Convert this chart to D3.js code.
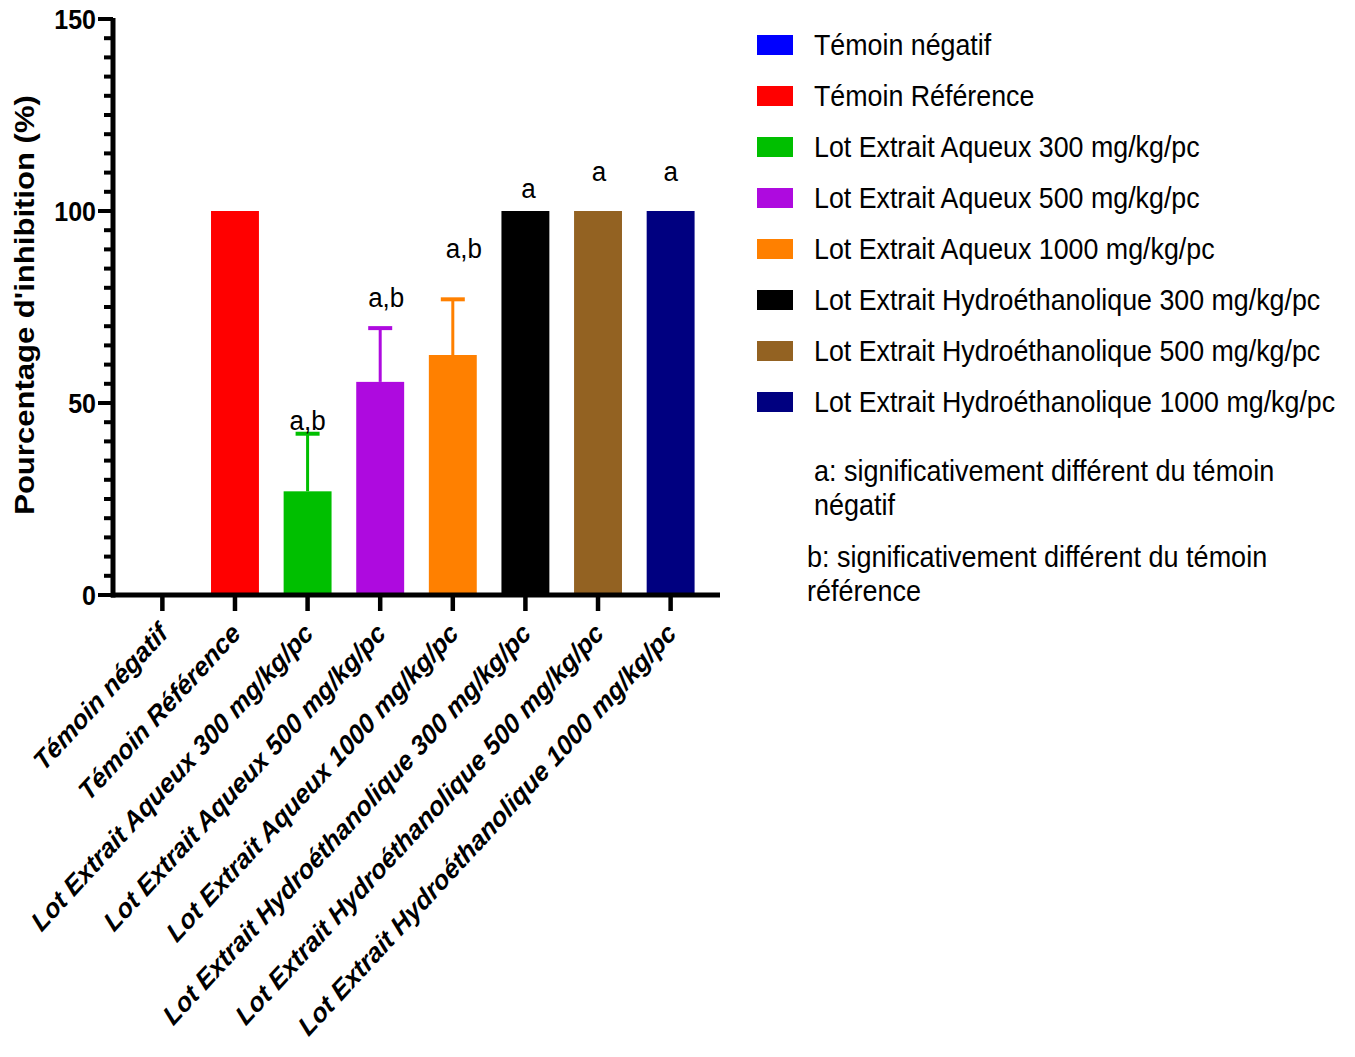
<!DOCTYPE html>
<html>
<head>
<meta charset="utf-8">
<script src="https://cdn.jsdelivr.net/npm/d3@7"></script>
<style>
  html, body { margin: 0; padding: 0; background: #fff; }
  svg { display: block; }
  text { font-family: "Liberation Sans", Arial, Helvetica, sans-serif; fill: #000; }
</style>
</head>
<body>
<svg id="chart" width="1355" height="1057"></svg>
<script>
// ---- data -------------------------------------------------------------
const categories = [
  "Témoin négatif",
  "Témoin Référence",
  "Lot Extrait Aqueux 300 mg/kg/pc",
  "Lot Extrait Aqueux 500 mg/kg/pc",
  "Lot Extrait Aqueux 1000 mg/kg/pc",
  "Lot Extrait Hydroéthanolique 300 mg/kg/pc",
  "Lot Extrait Hydroéthanolique 500 mg/kg/pc",
  "Lot Extrait Hydroéthanolique 1000 mg/kg/pc"
];
const inhibition = [0, 100, 27, 55.5, 62.5, 100, 100, 100];   // mean % inhibition
const errorUp    = [0, 0, 15, 14, 14.5, 0, 0, 0];              // upper error bar
const significance = ["", "", "a,b", "a,b", "a,b", "a", "a", "a"];
const yTicks = [0, 50, 100, 150];
const notes = [
  ["a: significativement différent du témoin", "négatif"],
  ["b: significativement différent du témoin", "référence"]
];

// ---- styling / layout -------------------------------------------------
const barColors = ["#0000FF", "#FF0000", "#00BF00", "#AE0ADF", "#FF8000", "#000000", "#936222", "#000080"];
const sigLabelAt = [null, null, 43, 75, 87.8, 103.3, 107.7, 107.8]; // label baseline, axis units
const sigNudge   = [0, 0, 0, 6, 11, 3, 1, 0];                      // px shift to the right
const VS = 1.09; // vertical stretch applied to lettering

const svg = d3.select("#chart");

const x = d3.scaleBand()
  .domain(categories)
  .range([113, 720])
  .paddingInner(0.34)
  .paddingOuter(0.35);

const y = d3.scaleLinear().domain([0, 150]).range([595, 19]);

const data = categories.map((c, i) => ({
  cat: c, v: inhibition[i], e: errorUp[i], col: barColors[i],
  sig: significance[i], sigAt: sigLabelAt[i], nudge: sigNudge[i]
}));

// ---- bars -------------------------------------------------------------
svg.append("g").selectAll("rect")
  .data(data.filter(d => d.v > 0))
  .join("rect")
  .attr("x", d => x(d.cat))
  .attr("width", x.bandwidth())
  .attr("y", d => y(d.v))
  .attr("height", d => y(0) - y(d.v))
  .attr("fill", d => d.col);

// ---- error bars (upper only) ------------------------------------------
const eb = svg.append("g").selectAll("g")
  .data(data.filter(d => d.e > 0))
  .join("g");
eb.append("line")
  .attr("x1", d => x(d.cat) + x.bandwidth() / 2)
  .attr("x2", d => x(d.cat) + x.bandwidth() / 2)
  .attr("y1", d => y(d.v))
  .attr("y2", d => y(d.v + d.e))
  .attr("stroke", d => d.col)
  .attr("stroke-width", 3);
eb.append("line")
  .attr("x1", d => x(d.cat) + x.bandwidth() / 2 - 12)
  .attr("x2", d => x(d.cat) + x.bandwidth() / 2 + 12)
  .attr("y1", d => y(d.v + d.e))
  .attr("y2", d => y(d.v + d.e))
  .attr("stroke", d => d.col)
  .attr("stroke-width", 4);

// ---- significance letters ---------------------------------------------
svg.append("g").selectAll("text")
  .data(data.filter(d => d.sig))
  .join("text")
  .attr("transform", d => `translate(${x(d.cat) + x.bandwidth() / 2 + d.nudge},${y(d.sigAt)}) scale(1,${VS})`)
  .attr("text-anchor", "middle")
  .style("font-size", "26px")
  .text(d => d.sig);

// ---- y axis -----------------------------------------------------------
const yAxis = svg.append("g");
yAxis.append("line")
  .attr("x1", 113).attr("x2", 113)
  .attr("y1", y(0) + 2.5).attr("y2", y(150) - 1)
  .attr("stroke", "#000").attr("stroke-width", 5);
yAxis.selectAll("line.minor")
  .data(d3.range(0, 151, 5).filter(v => !yTicks.includes(v)))
  .join("line")
  .attr("class", "minor")
  .attr("x1", 104).attr("x2", 113)
  .attr("y1", d => y(d)).attr("y2", d => y(d))
  .attr("stroke", "#000").attr("stroke-width", 4);
yAxis.selectAll("line.major")
  .data(yTicks)
  .join("line")
  .attr("class", "major")
  .attr("x1", 98).attr("x2", 113)
  .attr("y1", d => y(d)).attr("y2", d => y(d))
  .attr("stroke", "#000").attr("stroke-width", 4);
yAxis.selectAll("text")
  .data(yTicks)
  .join("text")
  .attr("transform", d => `translate(96,${y(d)}) scale(1,${VS})`)
  .attr("text-anchor", "end")
  .attr("dy", "0.36em")
  .style("font-size", "25px")
  .style("font-weight", "bold")
  .text(d => d);

svg.append("text")
  .attr("transform", `translate(34,305) scale(1,${VS}) rotate(-90)`)
  .attr("text-anchor", "middle")
  .style("font-size", "28.5px")
  .style("font-weight", "bold")
  .text("Pourcentage d'inhibition (%)");

// ---- x axis -----------------------------------------------------------
const xAxis = svg.append("g");
xAxis.append("line")
  .attr("x1", 111).attr("x2", 720)
  .attr("y1", y(0)).attr("y2", y(0))
  .attr("stroke", "#000").attr("stroke-width", 5);
xAxis.selectAll("line.tick")
  .data(categories)
  .join("line")
  .attr("class", "tick")
  .attr("x1", d => x(d) + x.bandwidth() / 2)
  .attr("x2", d => x(d) + x.bandwidth() / 2)
  .attr("y1", y(0)).attr("y2", y(0) + 16)
  .attr("stroke", "#000").attr("stroke-width", 4.5);
xAxis.selectAll("text")
  .data(categories)
  .join("text")
  .attr("transform", d => `translate(${x(d) + x.bandwidth() / 2 + 7},${y(0) + 40}) scale(1,${VS}) rotate(-45)`)
  .attr("text-anchor", "end")
  .style("font-size", "25px")
  .style("font-weight", "bold")
  .style("font-style", "italic")
  .text(d => d);

// ---- legend -----------------------------------------------------------
const legend = svg.append("g").attr("transform", "translate(757,35)");
const rows = legend.selectAll("g")
  .data(data)
  .join("g")
  .attr("transform", (d, i) => `translate(0,${i * 51})`);
rows.append("rect")
  .attr("width", 36).attr("height", 20)
  .attr("fill", d => d.col);
rows.append("text")
  .attr("transform", `translate(57,20) scale(1,${VS})`)
  .style("font-size", "26.8px")
  .text(d => d.cat);

// ---- notes ------------------------------------------------------------
const noteX = [814, 807];
const noteY = [481, 567];
notes.forEach((lines, k) => {
  lines.forEach((line, j) => {
    svg.append("text")
      .attr("transform", `translate(${noteX[k]},${noteY[k] + j * 34}) scale(1,${VS})`)
      .style("font-size", "27px")
      .text(line);
  });
});
</script>
</body>
</html>
